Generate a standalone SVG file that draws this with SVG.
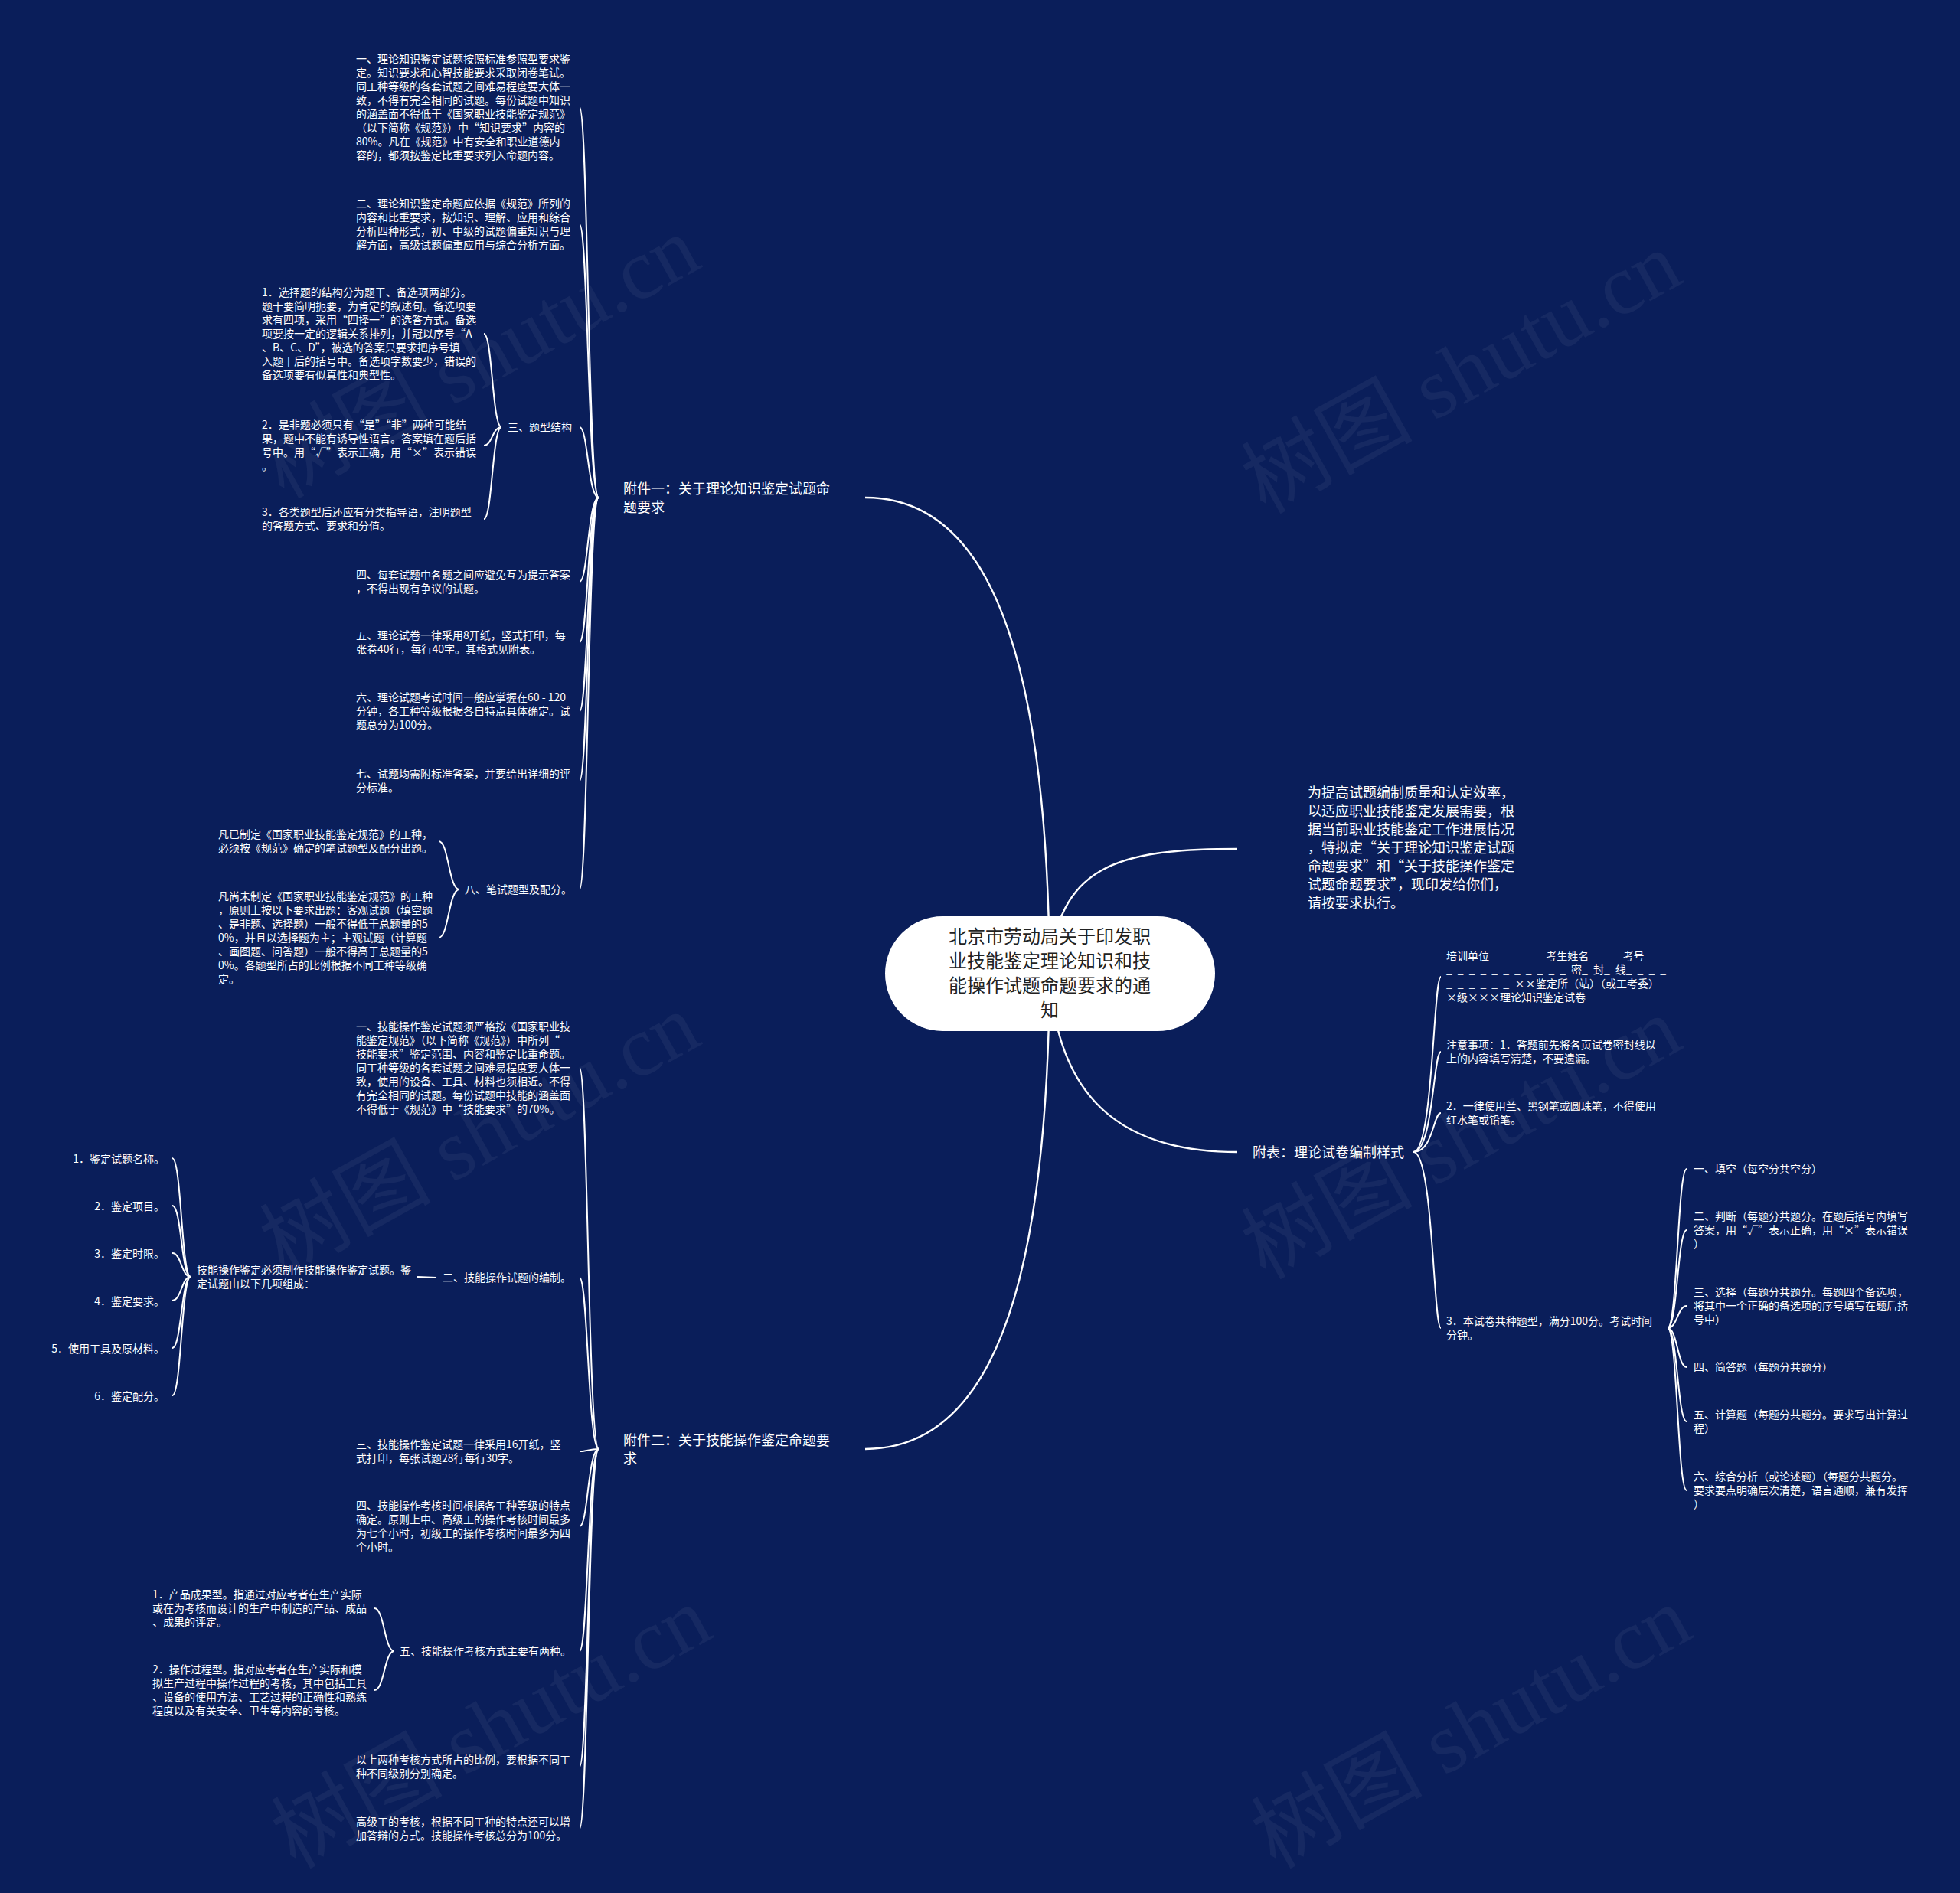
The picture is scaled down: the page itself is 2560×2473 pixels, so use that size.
<svg xmlns="http://www.w3.org/2000/svg" width="2560" height="2473" viewBox="0 0 2560 2473">
<style>
.bg{fill:#0a1e5a}
.wm{font-family:"Liberation Serif","Noto Sans CJK SC",serif;font-size:112px;fill:#ffffff;fill-opacity:0.05}
.t{font-family:"Noto Sans CJK SC","Noto Sans CJK JP",sans-serif;font-size:14px;fill:#ffffff}
.m{font-family:"Noto Sans CJK SC","Noto Sans CJK JP",sans-serif;font-size:18px;fill:#ffffff}
.ct{font-family:"Noto Sans CJK SC","Noto Sans CJK JP",sans-serif;font-size:24px;fill:#222222;text-anchor:middle}
.ln{fill:none;stroke:#ffffff;stroke-width:2}
.mn{fill:none;stroke:#ffffff;stroke-width:2.4}
.d{letter-spacing:7px}
</style>
<rect class="bg" x="0" y="0" width="2560" height="2473"/>
<g id="watermarks">
<text class="wm" text-anchor="middle" transform="translate(645,500) rotate(-29)">树图 shutu.cn</text>
<text class="wm" text-anchor="middle" transform="translate(1927,520) rotate(-29)">树图 shutu.cn</text>
<text class="wm" text-anchor="middle" transform="translate(645,1515) rotate(-29)">树图 shutu.cn</text>
<text class="wm" text-anchor="middle" transform="translate(1927,1520) rotate(-29)">树图 shutu.cn</text>
<text class="wm" text-anchor="middle" transform="translate(660,2290) rotate(-29)">树图 shutu.cn</text>
<text class="wm" text-anchor="middle" transform="translate(1940,2290) rotate(-29)">树图 shutu.cn</text>
</g>
<g id="connectors">
<path class="mn" d="M1371 1272 C1368 849,1290 650,1130 650"/>
<path class="mn" d="M1371 1272 C1368 1695,1290 1893,1130 1893"/>
<path class="mn" d="M1371 1272 C1380 1130,1460 1109,1616 1109"/>
<path class="mn" d="M1371 1272 C1380 1430,1460 1505,1616 1505"/>
<path class="ln" d="M782 650 C768 650,768 140,757 140"/>
<path class="ln" d="M782 650 C768 650,768 293,757 293"/>
<path class="ln" d="M782 650 C768 650,768 558,757 558"/>
<path class="ln" d="M782 650 C768 650,768 760,757 760"/>
<path class="ln" d="M782 650 C768 650,768 839,757 839"/>
<path class="ln" d="M782 650 C768 650,768 929,757 929"/>
<path class="ln" d="M782 650 C768 650,768 1020,757 1020"/>
<path class="ln" d="M782 650 C768 650,768 1162,757 1162"/>
<path class="ln" d="M655 558 C643 558,643 436,632 436"/>
<path class="ln" d="M655 558 C643 558,643 582,632 582"/>
<path class="ln" d="M655 558 C643 558,643 678,632 678"/>
<path class="ln" d="M600 1162 C586 1162,586 1099,573 1099"/>
<path class="ln" d="M600 1162 C586 1162,586 1225,573 1225"/>
<path class="ln" d="M782 1893 C768 1893,768 1395,757 1395"/>
<path class="ln" d="M782 1893 C768 1893,768 1669,757 1669"/>
<path class="ln" d="M782 1893 C768 1893,768 1896,757 1896"/>
<path class="ln" d="M782 1893 C768 1893,768 1994,757 1994"/>
<path class="ln" d="M782 1893 C768 1893,768 2157,757 2157"/>
<path class="ln" d="M782 1893 C768 1893,768 2308,757 2308"/>
<path class="ln" d="M782 1893 C768 1893,768 2389,757 2389"/>
<path class="ln" d="M570 1669 L545 1668"/>
<path class="ln" d="M249 1668 C237 1668,237 1513,225 1513"/>
<path class="ln" d="M249 1668 C237 1668,237 1575,225 1575"/>
<path class="ln" d="M249 1668 C237 1668,237 1637,225 1637"/>
<path class="ln" d="M249 1668 C237 1668,237 1699,225 1699"/>
<path class="ln" d="M249 1668 C237 1668,237 1761,225 1761"/>
<path class="ln" d="M249 1668 C237 1668,237 1823,225 1823"/>
<path class="ln" d="M515 2157 C502 2157,502 2101,489 2101"/>
<path class="ln" d="M515 2157 C502 2157,502 2208,489 2208"/>
<path class="ln" d="M1846 1505 C1872 1505,1872 1276,1882 1276"/>
<path class="ln" d="M1846 1505 C1872 1505,1872 1374,1882 1374"/>
<path class="ln" d="M1846 1505 C1872 1505,1872 1454,1882 1454"/>
<path class="ln" d="M1846 1505 C1872 1505,1872 1735,1882 1735"/>
<path class="ln" d="M2178 1735 C2191 1735,2191 1527,2203 1527"/>
<path class="ln" d="M2178 1735 C2191 1735,2191 1607,2203 1607"/>
<path class="ln" d="M2178 1735 C2191 1735,2191 1706,2203 1706"/>
<path class="ln" d="M2178 1735 C2191 1735,2191 1786,2203 1786"/>
<path class="ln" d="M2178 1735 C2191 1735,2191 1857,2203 1857"/>
<path class="ln" d="M2178 1735 C2191 1735,2191 1947,2203 1947"/>
</g>
<g id="root">
<rect x="1156" y="1197" width="431" height="150" rx="75" ry="75" fill="#ffffff"/>
<text class="ct"><tspan x="1371" y="1231.5">北京市劳动局关于印发职</tspan><tspan x="1371" y="1263.5">业技能鉴定理论知识和技</tspan><tspan x="1371" y="1295.5">能操作试题命题要求的通</tspan><tspan x="1371" y="1327.5">知</tspan></text>
</g>
<g id="branch1">
<text class="m"><tspan x="814" y="644.5">附件一：关于理论知识鉴定试题命</tspan><tspan x="814" y="668.5">题要求</tspan></text>
</g>
<g id="b1-c1">
<text class="t"><tspan x="465" y="82">一、理论知识鉴定试题按照标准参照型要求鉴</tspan><tspan x="465" y="100">定。知识要求和心智技能要求采取闭卷笔试。</tspan><tspan x="465" y="118">同工种等级的各套试题之间难易程度要大体一</tspan><tspan x="465" y="136">致，不得有完全相同的试题。每份试题中知识</tspan><tspan x="465" y="154">的涵盖面不得低于《国家职业技能鉴定规范》</tspan><tspan x="465" y="172">（以下简称《规范》）中“知识要求”内容的</tspan><tspan x="465" y="190">80%。凡在《规范》中有安全和职业道德内</tspan><tspan x="465" y="208">容的，都须按鉴定比重要求列入命题内容。</tspan></text>
</g>
<g id="b1-c2">
<text class="t"><tspan x="465" y="271">二、理论知识鉴定命题应依据《规范》所列的</tspan><tspan x="465" y="289">内容和比重要求，按知识、理解、应用和综合</tspan><tspan x="465" y="307">分析四种形式，初、中级的试题偏重知识与理</tspan><tspan x="465" y="325">解方面，高级试题偏重应用与综合分析方面。</tspan></text>
</g>
<g id="b1-c3">
<text class="t" x="663" y="563">三、题型结构</text>
</g>
<g id="b1-c3a">
<text class="t"><tspan x="342" y="387">1．选择题的结构分为题干、备选项两部分。</tspan><tspan x="342" y="405">题干要简明扼要，为肯定的叙述句。备选项要</tspan><tspan x="342" y="423">求有四项，采用“四择一”的选答方式。备选</tspan><tspan x="342" y="441">项要按一定的逻辑关系排列，并冠以序号“A</tspan><tspan x="342" y="459">、B、C、D”，被选的答案只要求把序号填</tspan><tspan x="342" y="477">入题干后的括号中。备选项字数要少，错误的</tspan><tspan x="342" y="495">备选项要有似真性和典型性。</tspan></text>
</g>
<g id="b1-c3b">
<text class="t"><tspan x="342" y="560">2．是非题必须只有“是”“非”两种可能结</tspan><tspan x="342" y="578">果，题中不能有诱导性语言。答案填在题后括</tspan><tspan x="342" y="596">号中。用“√”表示正确，用“×”表示错误</tspan><tspan x="342" y="614">。</tspan></text>
</g>
<g id="b1-c3c">
<text class="t"><tspan x="342" y="674">3．各类题型后还应有分类指导语，注明题型</tspan><tspan x="342" y="692">的答题方式、要求和分值。</tspan></text>
</g>
<g id="b1-c4">
<text class="t"><tspan x="465" y="756">四、每套试题中各题之间应避免互为提示答案</tspan><tspan x="465" y="774">，不得出现有争议的试题。</tspan></text>
</g>
<g id="b1-c5">
<text class="t"><tspan x="465" y="835">五、理论试卷一律采用8开纸，竖式打印，每</tspan><tspan x="465" y="853">张卷40行，每行40字。其格式见附表。</tspan></text>
</g>
<g id="b1-c6">
<text class="t"><tspan x="465" y="916">六、理论试题考试时间一般应掌握在60 - 120</tspan><tspan x="465" y="934">分钟，各工种等级根据各自特点具体确定。试</tspan><tspan x="465" y="952">题总分为100分。</tspan></text>
</g>
<g id="b1-c7">
<text class="t"><tspan x="465" y="1016">七、试题均需附标准答案，并要给出详细的评</tspan><tspan x="465" y="1034">分标准。</tspan></text>
</g>
<g id="b1-c8">
<text class="t" x="607" y="1167">八、笔试题型及配分。</text>
</g>
<g id="b1-c8a">
<text class="t"><tspan x="285" y="1095">凡已制定《国家职业技能鉴定规范》的工种，</tspan><tspan x="285" y="1113">必须按《规范》确定的笔试题型及配分出题。</tspan></text>
</g>
<g id="b1-c8b">
<text class="t"><tspan x="285" y="1176">凡尚未制定《国家职业技能鉴定规范》的工种</tspan><tspan x="285" y="1194">，原则上按以下要求出题：客观试题（填空题</tspan><tspan x="285" y="1212">、是非题、选择题）一般不得低于总题量的5</tspan><tspan x="285" y="1230">0%，并且以选择题为主；主观试题（计算题</tspan><tspan x="285" y="1248">、画图题、问答题）一般不得高于总题量的5</tspan><tspan x="285" y="1266">0%。各题型所占的比例根据不同工种等级确</tspan><tspan x="285" y="1284">定。</tspan></text>
</g>
<g id="branch2">
<text class="m"><tspan x="814" y="1887.5">附件二：关于技能操作鉴定命题要</tspan><tspan x="814" y="1911.5">求</tspan></text>
</g>
<g id="b2-c1">
<text class="t"><tspan x="465" y="1346">一、技能操作鉴定试题须严格按《国家职业技</tspan><tspan x="465" y="1364">能鉴定规范》（以下简称《规范》）中所列“</tspan><tspan x="465" y="1382">技能要求”鉴定范围、内容和鉴定比重命题。</tspan><tspan x="465" y="1400">同工种等级的各套试题之间难易程度要大体一</tspan><tspan x="465" y="1418">致，使用的设备、工具、材料也须相近。不得</tspan><tspan x="465" y="1436">有完全相同的试题。每份试题中技能的涵盖面</tspan><tspan x="465" y="1454">不得低于《规范》中“技能要求”的70%。</tspan></text>
</g>
<g id="b2-c2">
<text class="t" x="578" y="1674">二、技能操作试题的编制。</text>
</g>
<g id="b2-c2a">
<text class="t"><tspan x="257" y="1664">技能操作鉴定必须制作技能操作鉴定试题。鉴</tspan><tspan x="257" y="1682">定试题由以下几项组成：</tspan></text>
</g>
<g id="b2-c2a-1"><text class="t" text-anchor="end" x="215" y="1518.5">1．鉴定试题名称。</text></g>
<g id="b2-c2a-2"><text class="t" text-anchor="end" x="215" y="1580.5">2．鉴定项目。</text></g>
<g id="b2-c2a-3"><text class="t" text-anchor="end" x="215" y="1642.5">3．鉴定时限。</text></g>
<g id="b2-c2a-4"><text class="t" text-anchor="end" x="215" y="1704.5">4．鉴定要求。</text></g>
<g id="b2-c2a-5"><text class="t" text-anchor="end" x="215" y="1766.5">5．使用工具及原材料。</text></g>
<g id="b2-c2a-6"><text class="t" text-anchor="end" x="215" y="1828.5">6．鉴定配分。</text></g>
<g id="b2-c3">
<text class="t"><tspan x="465" y="1892">三、技能操作鉴定试题一律采用16开纸，竖</tspan><tspan x="465" y="1910">式打印，每张试题28行每行30字。</tspan></text>
</g>
<g id="b2-c4">
<text class="t"><tspan x="465" y="1972">四、技能操作考核时间根据各工种等级的特点</tspan><tspan x="465" y="1990">确定。原则上中、高级工的操作考核时间最多</tspan><tspan x="465" y="2008">为七个小时，初级工的操作考核时间最多为四</tspan><tspan x="465" y="2026">个小时。</tspan></text>
</g>
<g id="b2-c5">
<text class="t" x="522" y="2162">五、技能操作考核方式主要有两种。</text>
</g>
<g id="b2-c5a">
<text class="t"><tspan x="199" y="2088">1．产品成果型。指通过对应考者在生产实际</tspan><tspan x="199" y="2106">或在为考核而设计的生产中制造的产品、成品</tspan><tspan x="199" y="2124">、成果的评定。</tspan></text>
</g>
<g id="b2-c5b">
<text class="t"><tspan x="199" y="2186">2．操作过程型。指对应考者在生产实际和模</tspan><tspan x="199" y="2204">拟生产过程中操作过程的考核，其中包括工具</tspan><tspan x="199" y="2222">、设备的使用方法、工艺过程的正确性和熟练</tspan><tspan x="199" y="2240">程度以及有关安全、卫生等内容的考核。</tspan></text>
</g>
<g id="b2-c6">
<text class="t"><tspan x="465" y="2304">以上两种考核方式所占的比例，要根据不同工</tspan><tspan x="465" y="2322">种不同级别分别确定。</tspan></text>
</g>
<g id="b2-c7">
<text class="t"><tspan x="465" y="2385">高级工的考核，根据不同工种的特点还可以增</tspan><tspan x="465" y="2403">加答辩的方式。技能操作考核总分为100分。</tspan></text>
</g>
<g id="intro">
<text class="m"><tspan x="1708" y="1041.5">为提高试题编制质量和认定效率，</tspan><tspan x="1708" y="1065.5">以适应职业技能鉴定发展需要，根</tspan><tspan x="1708" y="1089.5">据当前职业技能鉴定工作进展情况</tspan><tspan x="1708" y="1113.5">，特拟定“关于理论知识鉴定试题</tspan><tspan x="1708" y="1137.5">命题要求”和“关于技能操作鉴定</tspan><tspan x="1708" y="1161.5">试题命题要求”，现印发给你们，</tspan><tspan x="1708" y="1185.5">请按要求执行。</tspan></text>
</g>
<g id="branch3">
<text class="m" x="1636" y="1511.5">附表：理论试卷编制样式</text>
</g>
<g id="b3-c1">
<text class="t"><tspan x="1889" y="1254">培训单位<tspan class="d">_____</tspan>考生姓名<tspan class="d">___</tspan>考号<tspan class="d">__</tspan></tspan><tspan x="1889" y="1272"><tspan class="d">___________</tspan>密<tspan class="d">_</tspan>封<tspan class="d">_</tspan>线<tspan class="d">____</tspan></tspan><tspan x="1889" y="1290"><tspan class="d">______</tspan>××鉴定所（站）（或工考委）</tspan><tspan x="1889" y="1308">×级×××理论知识鉴定试卷</tspan></text>
</g>
<g id="b3-c2">
<text class="t"><tspan x="1889" y="1370">注意事项：1．答题前先将各页试卷密封线以</tspan><tspan x="1889" y="1388">上的内容填写清楚，不要遗漏。</tspan></text>
</g>
<g id="b3-c3">
<text class="t"><tspan x="1889" y="1450">2．一律使用兰、黑钢笔或圆珠笔，不得使用</tspan><tspan x="1889" y="1468">红水笔或铅笔。</tspan></text>
</g>
<g id="b3-c4">
<text class="t"><tspan x="1889" y="1731">3．本试卷共种题型，满分100分。考试时间</tspan><tspan x="1889" y="1749">分钟。</tspan></text>
</g>
<g id="b3-c4a"><text class="t" x="2212" y="1532">一、填空（每空分共空分）</text></g>
<g id="b3-c4b">
<text class="t"><tspan x="2212" y="1594">二、判断（每题分共题分。在题后括号内填写</tspan><tspan x="2212" y="1612">答案，用“√”表示正确，用“×”表示错误</tspan><tspan x="2212" y="1630">）</tspan></text>
</g>
<g id="b3-c4c">
<text class="t"><tspan x="2212" y="1693">三、选择（每题分共题分。每题四个备选项，</tspan><tspan x="2212" y="1711">将其中一个正确的备选项的序号填写在题后括</tspan><tspan x="2212" y="1729">号中）</tspan></text>
</g>
<g id="b3-c4d"><text class="t" x="2212" y="1791">四、简答题（每题分共题分）</text></g>
<g id="b3-c4e">
<text class="t"><tspan x="2212" y="1853">五、计算题（每题分共题分。要求写出计算过</tspan><tspan x="2212" y="1871">程）</tspan></text>
</g>
<g id="b3-c4f">
<text class="t"><tspan x="2212" y="1934">六、综合分析（或论述题）（每题分共题分。</tspan><tspan x="2212" y="1952">要求要点明确层次清楚，语言通顺，兼有发挥</tspan><tspan x="2212" y="1970">）</tspan></text>
</g>
</svg>
